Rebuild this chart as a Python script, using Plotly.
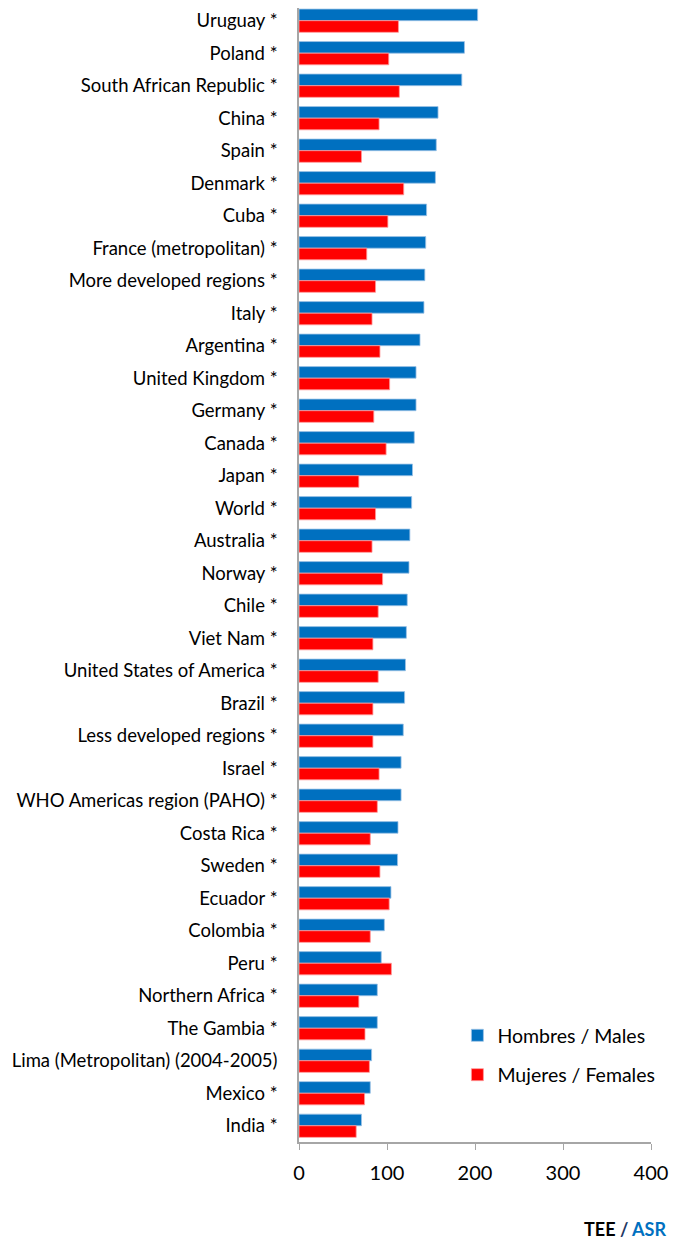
import plotly.graph_objects as go

categories = ["Uruguay *", "Poland *", "South African Republic *", "China *", "Spain *",
              "Denmark *", "Cuba *", "France (metropolitan) *", "More developed regions *",
              "Italy *", "Argentina *", "United Kingdom *", "Germany *", "Canada *", "Japan *",
              "World *", "Australia *", "Norway *", "Chile *", "Viet Nam *",
              "United States of America *", "Brazil *", "Less developed regions *", "Israel *",
              "WHO Americas region (PAHO) *", "Costa Rica *", "Sweden *", "Ecuador *",
              "Colombia *", "Peru *", "Northern Africa *", "The Gambia *",
              "Lima (Metropolitan) (2004-2005)", "Mexico *", "India *"]

males = [203, 188, 185, 158, 156, 155, 145, 144, 143, 142, 137.5, 133, 133, 131, 129,
         128, 126, 125, 123, 122, 121, 120, 118.5, 116, 116, 112.5, 112, 104.5, 97, 93.5,
         89, 89, 82.5, 81, 71]

females = [113, 102, 114, 91, 71, 119, 101, 77, 87, 83, 92, 103, 85, 99, 68, 87, 83, 95,
           90, 84, 90, 84, 84, 91, 89, 81, 92, 102.5, 81, 105, 68, 75, 80, 74.5, 65]

x_ticks = [0, 100, 200, 300, 400]

FONT = "Lato, 'Open Sans', sans-serif"

fig = go.Figure()
fig.add_trace(go.Bar(
    y=categories, x=males, orientation="h", name="Hombres / Males",
    marker=dict(color="#0070C0", line=dict(color="#9DC3E6", width=0.8)),
    legendgroup="m"))
fig.add_trace(go.Bar(
    y=categories, x=females, orientation="h", name="Mujeres / Females",
    marker=dict(color="#FF0000", line=dict(color="#FF9999", width=0.8)),
    legendgroup="f"))

n = len(categories)

fig.update_layout(
    width=687, height=1238,
    margin=dict(l=291, r=44, t=0, b=104),
    paper_bgcolor="white", plot_bgcolor="white",
    barmode="group", bargap=0.285, bargroupgap=0,
    font=dict(family=FONT, color="#000000"),
    showlegend=True,
    legend=dict(x=0.45, y=0.111, xanchor="left", yanchor="top",
                font=dict(size=19.5, family=FONT), traceorder="grouped",
                tracegroupgap=11, bgcolor="rgba(0,0,0,0)", itemwidth=30),
    xaxis=dict(range=[0, 400], tickvals=x_ticks, ticks="outside", ticklen=6,
               tickcolor="#A6A6A6", showline=True, linecolor="#A6A6A6", linewidth=1.5,
               showgrid=False, zeroline=False, tickfont=dict(size=20, family=FONT),
               ticklabelstandoff=6),
    yaxis=dict(range=[n - 0.5, -0.39], showline=True, linecolor="#A6A6A6", linewidth=1.5,
               ticks="", showgrid=False, tickfont=dict(size=18.5, family=FONT),
               ticklabelstandoff=16),
    annotations=[dict(
        text="<b>TEE <span style='color:#1F3864'>/</span> <span style='color:#0070C0'>ASR</span></b>",
        xref="paper", yref="paper", x=1.048, y=-0.0767, xanchor="right", yanchor="middle",
        showarrow=False, font=dict(size=18, family=FONT, color="#000000"))],
)

fig.write_html("out.html")
